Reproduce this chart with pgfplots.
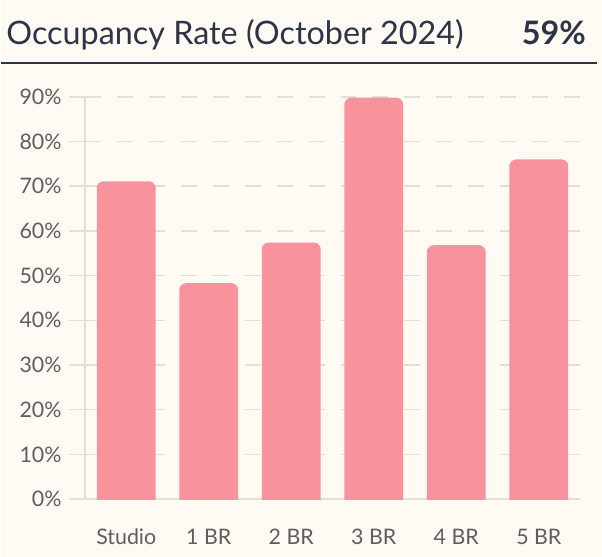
\documentclass[border=0pt]{standalone}
\usepackage{pgfplots}
\usepackage{pgfplotstable}
\pgfplotsset{compat=1.18}
\usepackage{fontspec}
\setmainfont{Lato}
\definecolor{bg}{RGB}{255,250,243}
\definecolor{barc}{RGB}{248,146,156}
\definecolor{gridc}{RGB}{227,223,215}
\definecolor{titlec}{RGB}{46,52,71}
\definecolor{tickc}{RGB}{94,94,94}
\pgfplotstableread{
x y
0 71.1
1 48.3
2 57.4
3 89.8
4 56.8
5 76.0
}\occ
% bar with rounded top, reaching down below the axis (clipped there)
\pgfdeclareplotmark{roundbar}{%
  \pgfsetcornersarced{\pgfpoint{7bp}{7bp}}%
  \pgfpathmoveto{\pgfpoint{-29.5bp}{-540bp}}%
  \pgfpathlineto{\pgfpoint{-29.5bp}{0bp}}%
  \pgfpathlineto{\pgfpoint{29.5bp}{0bp}}%
  \pgfpathlineto{\pgfpoint{29.5bp}{-540bp}}%
  \pgfpathclose
  \pgfusepath{fill}}
\begin{document}
\begin{tikzpicture}[x=1bp,y=1bp]
\fill[bg] (0,0) rectangle (602,558);
\node[anchor=base west, text=titlec, font=\fontsize{32.5}{36}\selectfont, inner sep=0] at (5,513) {Occupancy Rate (October 2024)};
\node[anchor=base east, text=titlec, font=\fontsize{32.5}{36}\selectfont\bfseries, inner sep=0] at (586,513) {59\%};
\draw[titlec, line width=2.3bp] (0,494.7) -- (597,494.7);
\begin{axis}[
  at={(84bp,58bp)}, anchor=south west,
  scale only axis, width=496bp, height=403bp,
  xmin=-0.5, xmax=5.5, ymin=0, ymax=90,
  ytick={0,10,...,90},
  yticklabels={0\%,10\%,20\%,30\%,40\%,50\%,60\%,70\%,80\%,90\%},
  xtick={0,...,5},
  xticklabels={Studio,1 BR,2 BR,3 BR,4 BR,5 BR},
  axis x line*=bottom, axis y line*=left,
  axis line style={-, draw=gridc, line width=1.5bp},
  ymajorgrids,
  grid style={draw=gridc, line width=1.5bp, dash pattern=on 16bp off 16bp},
  tick align=outside,
  major tick length=16bp,
  ytick style={draw=gridc, line width=1.5bp},
  xtick style={draw=none},
  ticklabel style={font=\fontsize{21.5}{25}\selectfont, text=tickc},
  yticklabel style={xshift=-4bp},
  xticklabel style={anchor=base, yshift=-30bp},
  clip marker paths=true,
]
\addplot[only marks, mark=roundbar, mark options={fill=barc, draw=none}] table[x=x,y=y] {\occ};
\end{axis}
\end{tikzpicture}
\end{document}
